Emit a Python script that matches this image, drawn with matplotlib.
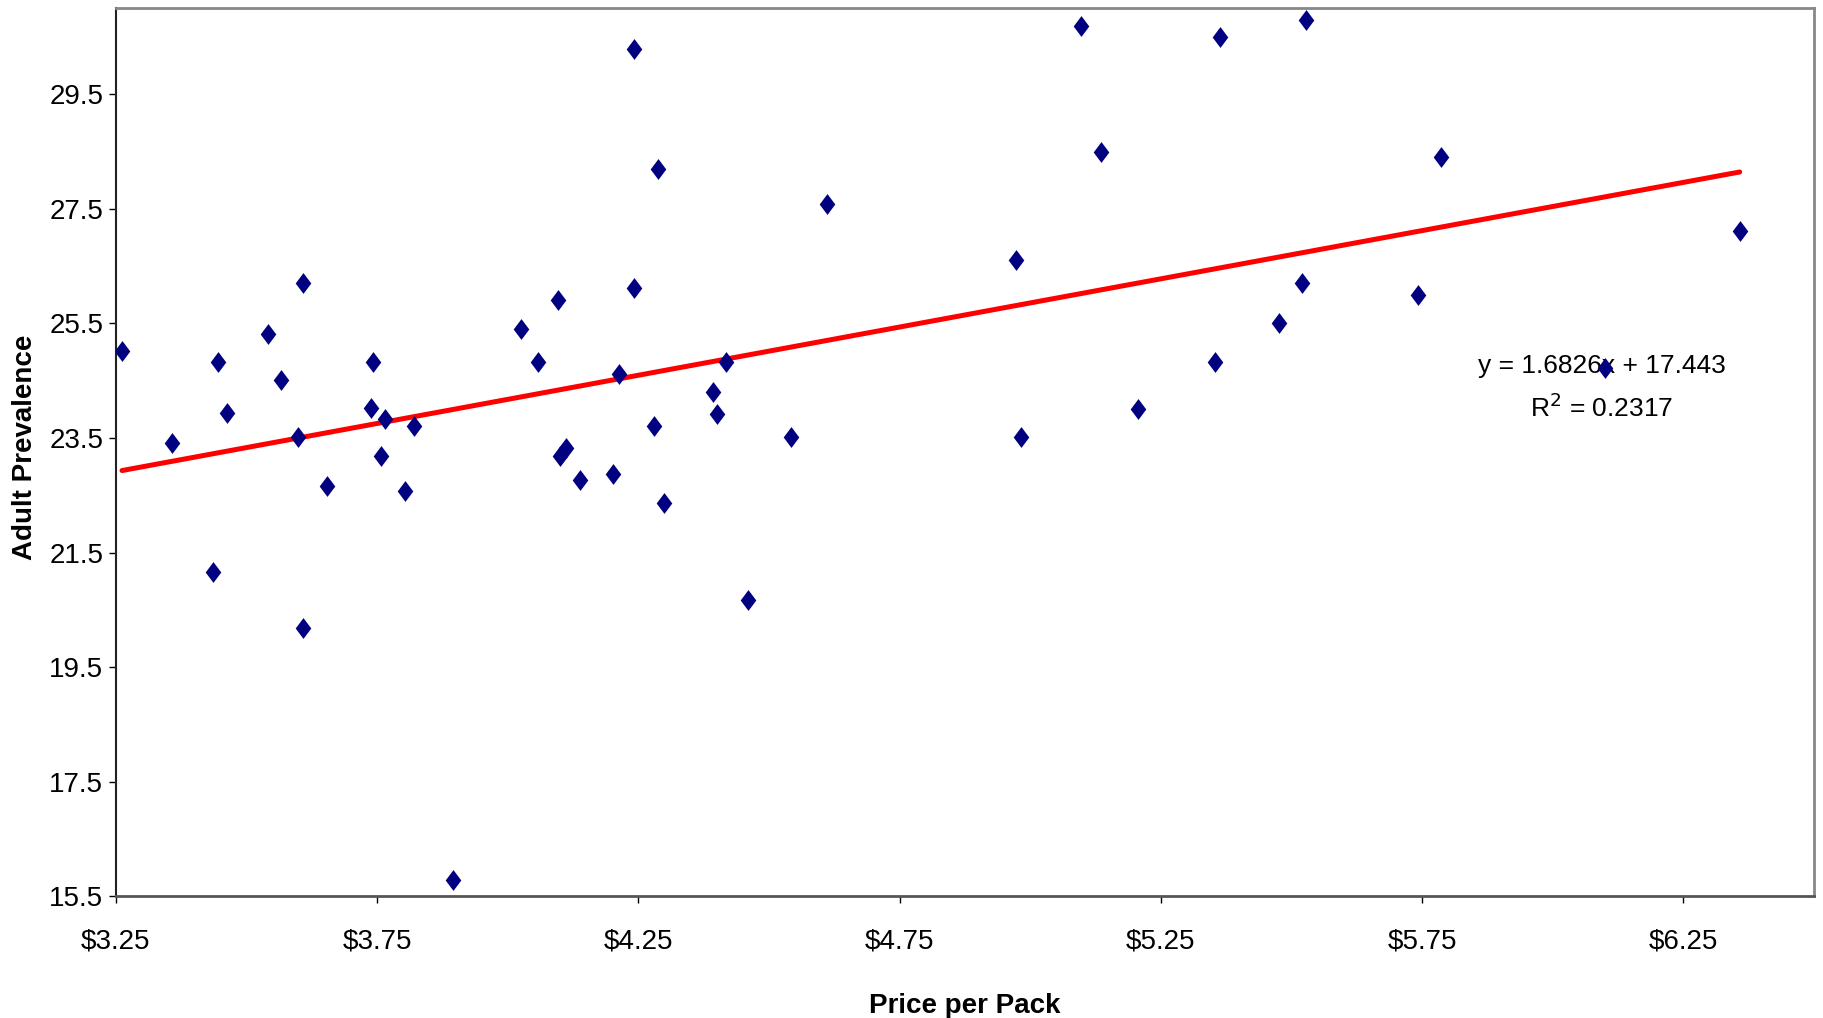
import numpy as np
import matplotlib
matplotlib.use("Agg")
import matplotlib.pyplot as plt
from matplotlib.path import Path
from matplotlib.ticker import FixedLocator, FixedFormatter

# Prix du paquet ($) et prévalence adulte (%)
price = [3.262, 3.358, 3.436, 3.445, 3.463, 3.541, 3.566, 3.599, 3.608, 3.608,
         3.655, 3.738, 3.742, 3.757, 3.766, 3.804, 3.820, 3.896, 4.025, 4.059,
         4.097, 4.101, 4.112, 4.139, 4.201, 4.213, 4.242, 4.242, 4.280, 4.288,
         4.300, 4.393, 4.400, 4.418, 4.460, 4.543, 4.612, 4.973, 4.982, 5.098,
         5.136, 5.207, 5.354, 5.363, 5.477, 5.520, 5.528, 5.742, 5.787, 6.101,
         6.358]
prevalence = [25.02, 23.42, 21.17, 24.82, 23.93, 25.31, 24.52, 23.52, 26.20, 20.18,
              22.67, 24.03, 24.82, 23.18, 23.83, 22.57, 23.71, 15.79, 25.41, 24.82,
              25.91, 23.18, 23.32, 22.77, 22.88, 24.62, 30.29, 26.12, 23.71, 28.20,
              22.37, 24.31, 23.91, 24.82, 20.67, 23.52, 27.59, 26.60, 23.52, 30.69,
              28.49, 24.01, 24.82, 30.49, 25.51, 26.20, 30.79, 25.99, 28.40, 24.72,
              27.11]

# Droite de tendance affichée
slope = 1.6826
intercept = 17.443
r_squared = 0.2317

x_ticks = [3.25, 3.75, 4.25, 4.75, 5.25, 5.75, 6.25]
x_tick_labels = ["$3.25", "$3.75", "$4.25", "$4.75", "$5.25", "$5.75", "$6.25"]
y_ticks = [15.5, 17.5, 19.5, 21.5, 23.5, 25.5, 27.5, 29.5]
y_tick_labels = ["15.5", "17.5", "19.5", "21.5", "23.5", "25.5", "27.5", "29.5"]

plt.rcParams["font.family"] = ["Liberation Sans", "DejaVu Sans"]

# losange un peu plus haut que large, comme dans Excel
diamond = Path([(0, 1), (0.75, 0), (0, -1), (-0.75, 0), (0, 1)],
               [Path.MOVETO, Path.LINETO, Path.LINETO, Path.LINETO, Path.CLOSEPOLY])

fig = plt.figure(figsize=(18.23, 10.18), dpi=100)
ax = fig.add_axes([0.0635, 0.1194, 0.9315, 0.8726])

x_line = np.array([min(price), max(price)])
ax.plot(x_line, slope * x_line + intercept, color="#ff0000", linewidth=3.6,
        solid_capstyle="round", zorder=2)
ax.plot(price, prevalence, linestyle="none", marker=diamond, markersize=15,
        color="#000080", markeredgewidth=0, zorder=4)

ax.set_xlim(3.25, 6.5)
ax.set_ylim(15.5, 31.0)
ax.xaxis.set_major_locator(FixedLocator(x_ticks))
ax.xaxis.set_major_formatter(FixedFormatter(x_tick_labels))
ax.yaxis.set_major_locator(FixedLocator(y_ticks))
ax.yaxis.set_major_formatter(FixedFormatter(y_tick_labels))
ax.tick_params(axis="both", direction="out", length=5, width=1, labelsize=20, colors="black")
ax.tick_params(axis="x", pad=18)
ax.tick_params(axis="y", pad=4)

ax.spines["left"].set_color("#222222")
ax.spines["left"].set_linewidth(1.5)
ax.spines["bottom"].set_color("#555555")
ax.spines["bottom"].set_linewidth(2)
ax.spines["top"].set_color("#888888")
ax.spines["top"].set_linewidth(2)
ax.spines["right"].set_color("#888888")
ax.spines["right"].set_linewidth(2)

ax.set_xlabel("Price per Pack", fontsize=20, fontweight="bold")
ax.xaxis.set_label_coords(0.5, -0.123)
ax.xaxis.label.set_va("center")
ax.set_ylabel("Adult Prevalence", fontsize=20, fontweight="bold")
ax.yaxis.set_label_coords(-0.046, 0.506)

ax.text(6.094, 24.76, f"y = {slope}x + {intercept}", fontsize=19, ha="center", va="center", zorder=3)
ax.text(6.094, 24.03, f"R$^2$ = {r_squared}", fontsize=19, ha="center", va="center", zorder=3)

fig.savefig("out.png", dpi=100)
